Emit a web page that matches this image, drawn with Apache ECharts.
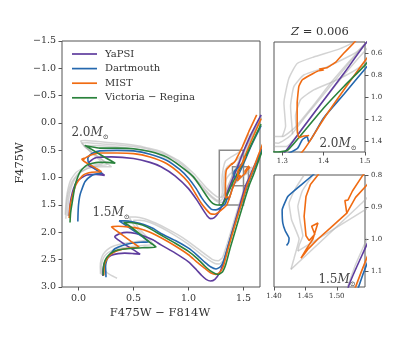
<!DOCTYPE html>
<html>
<head>
<meta charset="utf-8">
<script src="https://cdn.jsdelivr.net/npm/echarts@6/dist/echarts.min.js"></script>
<style>
html,body{margin:0;padding:0;background:#fff;}
#chart{width:415px;height:338px;}
</style>
</head>
<body>
<div id="chart"></div>
<script>
// model names (legend)
var models = ['YaPSI', 'Dartmouth', 'MIST', 'Victoria \u2212 Regina'];

// tick values
var mainXTicks = [0, 0.5, 1.0, 1.5];
var mainYTicks = [-1.5, -1.0, -0.5, 0.0, 0.5, 1.0, 1.5, 2.0, 2.5, 3.0];
var inset1XTicks = [1.3, 1.4, 1.5];
var inset1YTicks = [0.6, 0.8, 1.0, 1.2, 1.4];
var inset2XTicks = [1.40, 1.45, 1.50];
var inset2YTicks = [0.8, 0.9, 1.0, 1.1];

// ---- 2.0 Msun tracks [F475W-F814W, F475W]
var yapsi20 = [[-0.085,1.70],[-0.082,1.62],[-0.08,1.55],[-0.067,1.37],[-0.045,1.20],[-0.015,1.07],[0.03,1.00],[0.076,0.95],[0.16,0.94],[0.237,0.96],[0.20,0.90],[0.14,0.83],[0.09,0.77],[0.10,0.71],[0.164,0.63],[0.30,0.62],[0.50,0.65],[0.65,0.72],[0.75,0.80],[0.88,0.97],[1.0,1.20],[1.08,1.42],[1.13,1.58],[1.17,1.70],[1.20,1.75],[1.235,1.73],[1.27,1.65],[1.308,1.494],[1.35,1.28],[1.40,1.03],[1.45,0.78],[1.498,0.53],[1.57,0.20],[1.66,-0.15]];
var dartmouth20 = [[-0.006,1.80],[-0.004,1.65],[0.0,1.50],[0.01,1.35],[0.024,1.25],[0.06,1.07],[0.12,0.96],[0.17,0.93],[0.21,0.92],[0.17,0.86],[0.12,0.79],[0.09,0.72],[0.085,0.64],[0.12,0.56],[0.194,0.51],[0.35,0.50],[0.50,0.51],[0.65,0.57],[0.80,0.68],[0.92,0.85],[1.0,1.01],[1.07,1.20],[1.12,1.37],[1.17,1.50],[1.21,1.58],[1.25,1.59],[1.29,1.55],[1.336,1.47],[1.348,1.39],[1.36,1.36],[1.364,1.41],[1.375,1.35],[1.40,1.19],[1.45,0.97],[1.5,0.745],[1.57,0.42],[1.66,0.05]];
var mist20 = [[-0.085,1.74],[-0.08,1.60],[-0.075,1.50],[-0.06,1.37],[-0.04,1.22],[-0.015,1.10],[0.046,0.95],[0.12,0.90],[0.206,0.89],[0.16,0.83],[0.10,0.76],[0.05,0.70],[0.03,0.66],[0.055,0.64],[0.04,0.68],[0.07,0.63],[0.12,0.58],[0.194,0.55],[0.35,0.55],[0.50,0.56],[0.65,0.62],[0.80,0.74],[0.92,0.92],[1.0,1.09],[1.06,1.28],[1.11,1.45],[1.16,1.58],[1.20,1.66],[1.24,1.67],[1.28,1.62],[1.31,1.57],[1.348,1.50],[1.40,1.20],[1.45,0.93],[1.5,0.67],[1.57,0.33],[1.66,-0.08]];
var vr20 = [[-0.077,1.82],[-0.072,1.65],[-0.061,1.50],[-0.045,1.30],[-0.03,1.13],[-0.005,0.98],[0.015,0.89],[0.076,0.77],[0.18,0.72],[0.26,0.72],[0.334,0.735],[0.25,0.64],[0.15,0.52],[0.057,0.41],[0.10,0.43],[0.194,0.46],[0.35,0.46],[0.50,0.47],[0.65,0.52],[0.80,0.62],[0.92,0.78],[1.045,0.985],[1.12,1.20],[1.18,1.38],[1.22,1.47],[1.26,1.50],[1.29,1.50],[1.314,1.48],[1.36,1.28],[1.40,1.10],[1.45,0.90],[1.5,0.71],[1.57,0.40],[1.66,0.02]];
// MIST core He burning loop, 2.0 Msun
var mist20He = [[1.365,1.35],[1.352,1.355],[1.34,1.37],[1.337,1.325],[1.336,1.205],[1.336,1.055],[1.34,0.905],[1.348,0.845],[1.368,0.80],[1.385,0.765],[1.40,0.755],[1.39,0.745],[1.408,0.735],[1.43,0.68],[1.448,0.605],[1.47,0.52],[1.489,0.44],[1.55,0.15],[1.62,-0.15]];
var grey20a = [[-0.115,1.75],[-0.11,1.55],[-0.095,1.30],[-0.06,1.08],[0.0,0.92],[0.08,0.83],[0.18,0.78],[0.26,0.76],[0.15,0.58],[0.03,0.37],[0.08,0.36],[0.2,0.38],[0.4,0.41],[0.6,0.46],[0.8,0.58],[0.95,0.78],[1.08,1.05],[1.18,1.28],[1.25,1.40],[1.29,1.42],[1.32,1.35],[1.36,1.16],[1.41,0.93],[1.46,0.70],[1.5,0.52],[1.58,0.2],[1.67,-0.15]];
var grey20b = [[-0.10,1.70],[-0.095,1.50],[-0.08,1.28],[-0.04,1.05],[0.02,0.90],[0.10,0.82],[0.22,0.80],[0.30,0.80],[0.17,0.60],[0.05,0.42],[0.12,0.41],[0.3,0.43],[0.5,0.47],[0.7,0.55],[0.88,0.72],[1.02,0.95],[1.14,1.22],[1.22,1.38],[1.28,1.45],[1.31,1.45],[1.34,1.33],[1.39,1.08],[1.44,0.84],[1.5,0.58],[1.58,0.25],[1.67,-0.1]];
var grey20c = [[-0.12,1.68],[-0.115,1.48],[-0.10,1.25],[-0.07,1.04],[-0.02,0.90],[0.05,0.82],[0.14,0.77],[0.22,0.74],[0.12,0.55],[0.02,0.33],[0.06,0.32],[0.18,0.34],[0.35,0.37],[0.55,0.42],[0.75,0.52],[0.92,0.70],[1.05,0.93],[1.17,1.20],[1.26,1.35],[1.30,1.36],[1.33,1.28],[1.37,1.10],[1.42,0.86],[1.48,0.60],[1.56,0.28],[1.66,-0.1]];
var grey20Loop1 = [[1.30,1.36],[1.308,1.265],[1.304,1.055],[1.316,0.83],[1.336,0.695],[1.376,0.636],[1.44,0.56],[1.48,0.486],[1.55,0.2]];
var grey20Loop2 = [[1.325,1.34],[1.324,1.295],[1.32,1.085],[1.328,0.906],[1.352,0.80],[1.408,0.726],[1.48,0.59],[1.56,0.28]];
var grey20Loop3 = [[1.34,1.37],[1.336,1.325],[1.332,1.175],[1.344,1.025],[1.376,0.935],[1.432,0.845],[1.488,0.726],[1.56,0.45]];

// ---- 1.5 Msun tracks
var yapsi15 = [[0.222,2.80],[0.222,2.72],[0.228,2.62],[0.24,2.54],[0.265,2.47],[0.30,2.42],[0.36,2.39],[0.42,2.38],[0.50,2.39],[0.56,2.40],[0.50,2.32],[0.42,2.22],[0.36,2.14],[0.33,2.08],[0.38,2.02],[0.44,2.00],[0.52,2.02],[0.60,2.07],[0.68,2.14],[0.75,2.23],[0.88,2.38],[1.0,2.54],[1.07,2.68],[1.12,2.79],[1.16,2.86],[1.20,2.89],[1.24,2.86],[1.28,2.75],[1.31,2.60],[1.35,2.33],[1.40,1.97],[1.46,1.55],[1.519,1.147],[1.548,1.017],[1.60,0.78],[1.67,0.47]];
var dartmouth15 = [[0.25,2.82],[0.248,2.72],[0.246,2.62],[0.255,2.52],[0.27,2.45],[0.30,2.37],[0.33,2.30],[0.40,2.24],[0.48,2.20],[0.56,2.18],[0.64,2.17],[0.58,2.08],[0.50,1.97],[0.42,1.86],[0.37,1.79],[0.42,1.79],[0.50,1.81],[0.60,1.86],[0.68,1.93],[0.75,2.02],[0.88,2.15],[1.0,2.29],[1.08,2.42],[1.15,2.55],[1.20,2.63],[1.25,2.67],[1.29,2.63],[1.32,2.52],[1.36,2.25],[1.42,1.86],[1.48,1.48],[1.54,1.12],[1.58,0.92],[1.64,0.62],[1.70,0.35]];
var mist15 = [[0.23,2.79],[0.232,2.70],[0.235,2.60],[0.25,2.52],[0.27,2.45],[0.31,2.38],[0.36,2.33],[0.45,2.29],[0.55,2.27],[0.48,2.17],[0.40,2.05],[0.33,1.95],[0.30,1.90],[0.36,1.89],[0.45,1.90],[0.55,1.93],[0.65,2.00],[0.75,2.10],[0.88,2.25],[1.0,2.41],[1.08,2.55],[1.15,2.66],[1.20,2.74],[1.25,2.77],[1.29,2.72],[1.32,2.60],[1.36,2.30],[1.42,1.88],[1.48,1.48],[1.53,1.15],[1.57,0.95],[1.63,0.62],[1.69,0.30]];
var vr15 = [[0.225,2.79],[0.225,2.70],[0.23,2.60],[0.24,2.52],[0.26,2.45],[0.29,2.39],[0.33,2.34],[0.40,2.31],[0.50,2.29],[0.60,2.28],[0.705,2.27],[0.64,2.17],[0.55,2.02],[0.46,1.88],[0.41,1.82],[0.46,1.82],[0.53,1.84],[0.62,1.90],[0.75,2.05],[0.88,2.20],[1.0,2.35],[1.08,2.48],[1.15,2.62],[1.21,2.72],[1.27,2.77],[1.31,2.72],[1.34,2.58],[1.38,2.28],[1.44,1.87],[1.50,1.47],[1.55,1.15],[1.59,0.95],[1.65,0.62],[1.71,0.32]];
// He burning, 1.5 Msun
var dartmouth15He = [[1.49,0.74],[1.462,0.80],[1.44,0.836],[1.422,0.867],[1.413,0.909],[1.414,0.95],[1.418,0.975],[1.424,0.997],[1.423,1.012],[1.42,1.02]];
var mist15He = [[1.52,0.60],[1.49,0.74],[1.47,0.80],[1.458,0.83],[1.451,0.867],[1.448,0.929],[1.451,0.99],[1.456,1.005],[1.465,0.985],[1.46,0.96],[1.47,0.95],[1.462,1.0],[1.452,1.03],[1.443,1.06],[1.455,1.03],[1.47,1.0],[1.49,0.965],[1.516,0.919],[1.513,0.88],[1.518,0.878],[1.525,0.85],[1.54,0.805],[1.55,0.78]];
var mist15He2 = [[1.516,0.919],[1.53,0.87],[1.548,0.831],[1.56,0.80]];
var grey15a = [[0.20,2.76],[0.198,2.62],[0.205,2.50],[0.225,2.40],[0.26,2.32],[0.32,2.25],[0.42,2.20],[0.52,2.17],[0.62,2.14],[0.56,2.00],[0.50,1.86],[0.46,1.72],[0.52,1.72],[0.60,1.75],[0.70,1.83],[0.82,1.95],[0.95,2.10],[1.06,2.26],[1.15,2.40],[1.22,2.50],[1.27,2.52],[1.31,2.46],[1.35,2.22],[1.41,1.82],[1.47,1.42],[1.53,1.08],[1.58,0.86],[1.64,0.56],[1.70,0.28]];
var grey15b = [[0.21,2.78],[0.208,2.65],[0.215,2.53],[0.235,2.44],[0.27,2.37],[0.34,2.31],[0.45,2.27],[0.58,2.24],[0.68,2.22],[0.62,2.08],[0.55,1.93],[0.50,1.78],[0.56,1.78],[0.65,1.82],[0.76,1.92],[0.88,2.06],[1.0,2.22],[1.10,2.38],[1.18,2.50],[1.24,2.57],[1.28,2.58],[1.32,2.50],[1.36,2.24],[1.42,1.84],[1.48,1.44],[1.54,1.10],[1.59,0.88],[1.65,0.58],[1.71,0.28]];
var grey15c = [[0.24,2.70],[0.26,2.74],[0.29,2.78],[0.32,2.81],[0.35,2.84]];
var grey15HeA = [[1.427,1.095],[1.545,0.878],[1.58,0.80]];
var grey15HeB = [[1.438,1.038],[1.545,0.909],[1.58,0.86]];
var grey15HeC = [[1.47,0.74],[1.448,0.80],[1.432,0.85],[1.424,0.888],[1.428,0.94],[1.44,1.0],[1.432,1.06],[1.427,1.095]];
var grey15HeD = [[1.49,0.74],[1.462,0.80],[1.445,0.85],[1.438,0.898],[1.442,0.95],[1.446,0.99],[1.44,1.02],[1.438,1.038]];

// inset limits
var inset1X = [1.28, 1.50], inset1Y = [0.50, 1.50];
var inset2X = [1.40, 1.545], inset2Y = [0.80, 1.15];

var colors = ['#5f3d9e', '#2568ae', '#f06b12', '#2a823c'];
var greyCol = 'rgba(175,175,175,0.55)';
var SERIF = '"DejaVu Serif", serif';

function fmt(d){ return function(v){ return v.toFixed(d).replace('-', '\u2212'); }; }

function line(data, color, grid, opt){
	opt = opt || {};
	return {
		type: 'line', name: opt.name, data: data,
		xAxisIndex: grid, yAxisIndex: grid,
		symbol: 'none', showSymbol: false, smooth: opt.smooth == null ? 0.2 : opt.smooth,
		lineStyle: {color: color, width: opt.width || 1.6},
		itemStyle: {color: color},
		z: opt.z || 2, silent: true, animation: false, clip: true
	};
}

var series = [];
var greys20 = [grey20a, grey20b, grey20c];
var greyLoops20 = [grey20Loop1, grey20Loop2, grey20Loop3];
var greys15 = [grey15a, grey15b, grey15c];
var greyHe15 = [grey15HeA, grey15HeB, grey15HeC, grey15HeD];
var tr20 = [yapsi20, dartmouth20, mist20, vr20];
var tr15 = [yapsi15, dartmouth15, mist15, vr15];

// main panel
greys20.concat(greyLoops20, greys15, greyHe15).forEach(function(d){
	series.push(line(d, greyCol, 0, {width: 1.5, z: 1, smooth: 0.15}));
});
tr20.forEach(function(d, i){ series.push(line(d, colors[i], 0, {name: models[i]})); });
tr15.forEach(function(d, i){ series.push(line(d, colors[i], 0, {name: models[i]})); });
series.push(line(mist20He, colors[2], 0, {name: models[2], smooth: 0.1}));
series.push(line(dartmouth15He, colors[1], 0, {name: models[1], smooth: 0.1}));
series.push(line(mist15He, colors[2], 0, {name: models[2], smooth: 0}));
series.push(line(mist15He2, colors[2], 0, {name: models[2], smooth: 0}));

// boxes marking the insets
series.push({
	type: 'line', data: [], xAxisIndex: 0, yAxisIndex: 0, silent: true, z: 5,
	markArea: {
		silent: true,
		itemStyle: {color: 'rgba(0,0,0,0)', borderColor: '#8a8a8a', borderWidth: 1.5},
		data: [
			[{coord: [inset1X[0], inset1Y[0]]}, {coord: [inset1X[1], inset1Y[1]]}],
			[{coord: [inset2X[0], inset2Y[0]]}, {coord: [inset2X[1], inset2Y[1]]}]
		]
	}
});

// inset 1: 2.0 Msun
greys20.concat(greyLoops20).forEach(function(d){
	series.push(line(d, greyCol, 1, {width: 1.5, z: 1, smooth: 0.15}));
});
tr20.forEach(function(d, i){ series.push(line(d, colors[i], 1, {})); });
series.push(line(mist20He, colors[2], 1, {smooth: 0.1}));

// inset 2: 1.5 Msun
greys15.concat(greyHe15).forEach(function(d){
	series.push(line(d, greyCol, 2, {width: 1.5, z: 1, smooth: 0.1}));
});
tr15.forEach(function(d, i){ series.push(line(d, colors[i], 2, {})); });
series.push(line(dartmouth15He, colors[1], 2, {smooth: 0.1}));
series.push(line(mist15He, colors[2], 2, {smooth: 0}));
series.push(line(mist15He2, colors[2], 2, {smooth: 0}));

function xAx(grid, min, max, ticks, dec, size){
	return {
		type: 'value', gridIndex: grid, min: min, max: max, position: 'bottom',
		axisLine: {show: false, onZero: false}, splitLine: {show: false},
		axisTick: {show: true, length: 3.5, customValues: ticks, lineStyle: {color: '#555', width: 1}},
		axisLabel: {customValues: ticks, formatter: fmt(dec), fontFamily: SERIF, fontSize: size, color: '#333', margin: size > 8 ? 7 : 6}
	};
}
function yAx(grid, min, max, ticks, dec, size, pos){
	return {
		type: 'value', gridIndex: grid, min: min, max: max, inverse: true, position: pos,
		axisLine: {show: false, onZero: false}, splitLine: {show: false},
		axisTick: {show: true, length: 3.5, customValues: ticks, lineStyle: {color: '#555', width: 1}},
		axisLabel: {customValues: ticks, formatter: fmt(dec), fontFamily: SERIF, fontSize: size, color: '#333', margin: 6}
	};
}

var frame = {show: true, borderColor: '#555', borderWidth: 1, backgroundColor: 'rgba(0,0,0,0)'};

var option = {
	backgroundColor: '#fff',
	animation: false,
	grid: [
		Object.assign({left: 62, top: 41, width: 198, height: 246}, frame),
		Object.assign({left: 274, top: 42, width: 91, height: 110}, frame),
		Object.assign({left: 274, top: 175, width: 91, height: 112}, frame)
	],
	xAxis: [
		xAx(0, -0.15, 1.65, mainXTicks, 1, 9.5),
		xAx(1, inset1X[0], inset1X[1], inset1XTicks, 1, 7),
		xAx(2, inset2X[0], inset2X[1], inset2XTicks, 2, 7)
	],
	yAxis: [
		yAx(0, -1.5, 3.0, mainYTicks, 1, 9.5, 'left'),
		yAx(1, inset1Y[0], inset1Y[1], inset1YTicks, 1, 7, 'right'),
		yAx(2, inset2Y[0], inset2Y[1], inset2YTicks, 1, 7, 'right')
	],
	legend: {
		data: models, orient: 'vertical', left: 72, top: 49, padding: 0,
		icon: 'path://M0,0 L25,0 L25,1.7 L0,1.7 Z',
		itemWidth: 25, itemHeight: 12, itemGap: 4.6,
		textStyle: {fontFamily: SERIF, fontSize: 10, color: '#333', padding: [0, 0, 0, 3]},
		selectedMode: false
	},
	graphic: [
		{type: 'text', x: 160, y: 313, style: {text: 'F475W \u2212 F814W', font: '11.5px "DejaVu Serif"', fill: '#333', align: 'center', verticalAlign: 'middle'}},
		{type: 'text', x: 20, y: 163, rotation: Math.PI / 2, style: {text: 'F475W', font: '11.5px "DejaVu Serif"', fill: '#333', align: 'center', verticalAlign: 'middle'}},
		{type: 'text', x: 320, y: 32, style: {text: '{i|Z} = 0.006', font: '11.5px "DejaVu Serif"', fill: '#333', align: 'center', verticalAlign: 'middle',
			rich: {i: {font: 'italic 11.5px "DejaVu Serif"', fill: '#333'}}}}
	],
	series: series
};

function massLabel(txt, x, y){
	return {type: 'text', x: x, y: y, z: 10, style: {
		text: '{n|' + txt + '}{m|M}{s|\u2299}', align: 'center', verticalAlign: 'middle', fill: '#444',
		rich: {
			n: {fontFamily: SERIF, fontSize: 12, lineHeight: 16, fill: '#444'},
			m: {fontFamily: SERIF, fontSize: 12, fontStyle: 'italic', lineHeight: 16, fill: '#444'},
			s: {fontFamily: SERIF, fontSize: 7, lineHeight: 7, verticalAlign: 'bottom', fill: '#444'}
		}
	}};
}
option.graphic.push(massLabel('2.0', 90, 133));
option.graphic.push(massLabel('1.5', 111, 213));
option.graphic.push(massLabel('2.0', 338, 144));
option.graphic.push(massLabel('1.5', 337, 280));

var myChart = echarts.init(document.getElementById('chart'), null, {renderer: 'canvas'});
myChart.setOption(option);
</script>
</body>
</html>
